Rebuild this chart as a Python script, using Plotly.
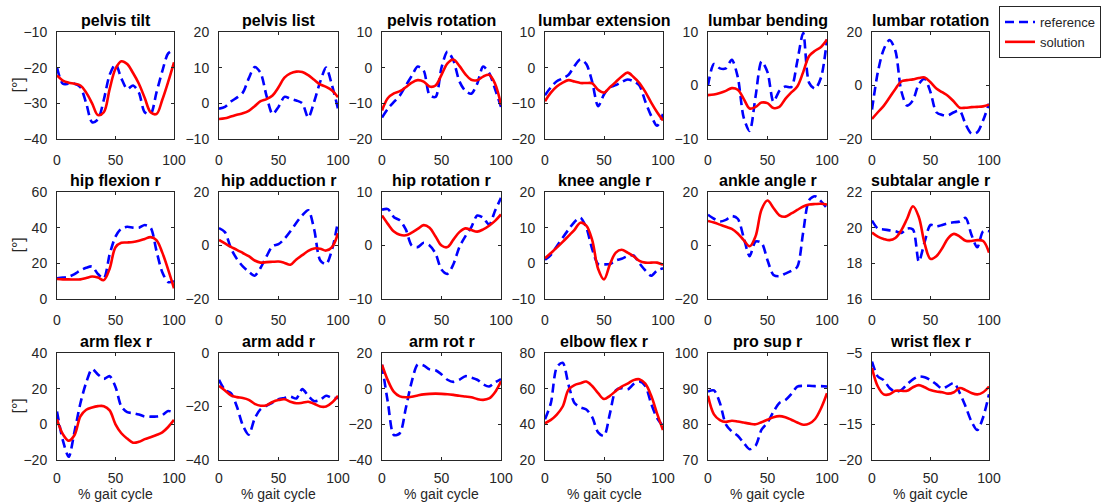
import plotly.graph_objects as go

# % gait cycle sample points
gait = [0, 5, 10, 15, 20, 25, 30, 35, 40, 45, 50, 55, 60, 65, 70, 75, 80, 85, 90, 95, 100]

titles = ["pelvis tilt", "pelvis list", "pelvis rotation", "lumbar extension", "lumbar bending", "lumbar rotation",
          "hip flexion r", "hip adduction r", "hip rotation r", "knee angle r", "ankle angle r", "subtalar angle r",
          "arm flex r", "arm add r", "arm rot r", "elbow flex r", "pro sup r", "wrist flex r"]

# ---- row 1 ----
pelvis_tilt_ref = [-20, -24.5, -24.5, -24.5, -25.5, -30, -35.3, -34.5, -29, -22, -19, -23, -26, -25, -27, -32.5, -33, -27, -21, -16, -15]
pelvis_tilt_sol = [-22.2, -23.6, -24.2, -24.5, -25, -27, -30, -33.3, -32.5, -26, -20.3, -18.2, -19, -21.5, -24.5, -28.5, -32.5, -33, -29, -24, -18.5]
pelvis_list_ref = [-1.5, -1, 0.5, 1.6, 3, 7, 10.2, 8.5, 2, -3, -1, 1.8, 1.3, 0.8, 0, -4, 0.5, 6, 10, 5, -1.5]
pelvis_list_sol = [-4.4, -4.2, -3.7, -3.2, -2.8, -2.1, -0.8, 0.6, 1.2, 2.2, 4.5, 7.2, 8.4, 8.9, 8.8, 7.9, 6.6, 5.3, 4.6, 3.6, 1.7]
pelvis_rotation_ref = [-14, -11.5, -9.6, -7.8, -5, -2.3, 0.3, -0.8, -7.7, -8.2, 0, 4.5, 2, -3.8, -6.5, -7.3, -4.5, 0.3, -1.5, -6, -11]
pelvis_rotation_sol = [-12, -8.5, -7.2, -6.6, -5.5, -4.2, -3.5, -3.9, -5.3, -5, -2, 1.2, 2.3, 0.5, -1.8, -3.4, -3.5, -2.5, -2, -4.5, -10.4]
lumbar_extension_ref = [-7.7, -5.5, -3.8, -3, -2, 0.5, 2.3, 1, -4, -10.8, -7.5, -5.5, -4.9, -4, -3.3, -3.8, -5, -9.5, -13.5, -16.3, -13]
lumbar_extension_sol = [-9.4, -7, -5.3, -4.2, -3.5, -3.9, -4.3, -4.3, -4.4, -6.2, -7, -5.5, -4, -2.5, -1.4, -2.6, -4.3, -6.8, -9.8, -12.5, -14.8]
lumbar_bending_ref = [0, 4, 3.2, 3.2, 4.8, 1.6, -6, -8.5, -2, 4.5, 2.5, -3, -1, -0.2, -0.3, 4.5, 9.8, 0.5, -0.6, 1.5, 8.6]
lumbar_bending_sol = [-1.8, -1.7, -1.4, -1, -0.5, -0.8, -2.5, -4.3, -4, -3.2, -3.3, -4.2, -4, -2.5, -1.3, -0.2, 2.5, 5.5, 6.5, 7.2, 8.6]
lumbar_rotation_ref = [-9, 5, 13.5, 17, 13, -2, -7.5, -5.5, 0.5, 2.5, -2.5, -10, -11, -11.2, -10, -9.5, -14.5, -18, -17.5, -13, -6.8]
lumbar_rotation_sol = [-12.5, -10, -7.6, -4.5, -1.3, 1.5, 2, 2.3, 2.8, 3, 1.2, -1.1, -2.5, -3.9, -6, -8.3, -8.3, -8.1, -8, -7.8, -7.2]

# ---- row 2 ----
hip_flexion_ref = [11.6, 12, 12.5, 14, 16, 17.5, 18.2, 14, 11.5, 25, 35, 39.5, 40.5, 40, 40, 41.5, 40, 27, 15, 9.5, 10]
hip_flexion_sol = [11.2, 11, 11, 10.9, 11, 11.8, 12.6, 12, 10.6, 17, 29, 31.5, 31.7, 32, 32.7, 33.7, 34.7, 33, 26, 16.5, 6]
hip_adduction_ref = [6.5, 5, -1, -5, -7.8, -9.8, -11.3, -8.3, -4, -0.2, 0.5, 2.5, 5.3, 8.5, 11.3, 13.2, 6, -5.5, -7, -1.5, 9]
hip_adduction_sol = [2.1, 0.8, -0.5, -1.6, -2.8, -4, -5.6, -6.4, -6.2, -6.1, -6, -6.5, -7.2, -5.2, -3.6, -2, -1.1, -1.2, -1.9, -0.6, 4.6]
hip_rotation_ref = [6.7, 6.8, 5.3, 4.7, 3, 0, -0.3, 0.5, 0, -1.5, -4.5, -5.3, -3.5, -0.3, 1.7, 3.4, 5.6, 5.2, 3.9, 6.5, 8.9]
hip_rotation_sol = [5.6, 4, 2.6, 2, 1.9, 2.4, 3.1, 3.8, 3.3, 1.7, 0, -0.3, 1.1, 2.5, 3.2, 2.9, 2.6, 3, 3.7, 4.6, 5.8]
knee_angle_ref = [1, 2.4, 4.8, 7.2, 9.5, 11.6, 12.8, 10, 4, -0.2, -0.3, -0.2, 0.8, 1.3, 2, 2.2, 0, -2, -3.5, -2, -1.4]
knee_angle_sol = [1.4, 2.9, 4.4, 6, 7.7, 9.4, 11.4, 10.6, 6.5, -1.5, -4.5, -0.3, 3, 3.8, 3, 2, 0.7, 0.2, 0.2, 0.2, -0.4]
ankle_angle_ref = [11.5, 10, 9, 9.6, 11, 10, 3, -4, 1.5, 1, -5.5, -11, -11.5, -10.5, -9.5, -8, 5, 17, 18.4, 16.5, 14]
ankle_angle_sol = [9.2, 8.6, 7.8, 7, 6.2, 4.5, 2, -0.3, 3.5, 13.5, 16.8, 14, 11.3, 10.8, 12, 13.3, 14.6, 15.3, 15.5, 15.6, 15.3]
subtalar_angle_ref = [20.4, 19.95, 19.9, 19.85, 19.8, 19.7, 19.95, 19.9, 18.1, 19.2, 20.15, 20.07, 20.15, 20.25, 20.3, 20.35, 20.55, 19.6, 18.9, 19.8, 19.8]
subtalar_angle_sol = [19.73, 19.5, 19.37, 19.3, 19.42, 19.85, 20.5, 21.2, 20.6, 19.1, 18.25, 18.4, 18.85, 19.4, 19.65, 19.5, 19.27, 19.25, 19.3, 19.25, 18.6]

# ---- row 3 ----
arm_flex_ref = [7.2, -9, -18.2, -4, 11.8, 23.5, 31, 28, 25.5, 27, 21, 10, 6.8, 6.3, 5.5, 4.4, 4.3, 4.4, 5.2, 7.5, 6.5]
arm_flex_sol = [2.8, -5.5, -9.2, -6, 4.5, 8.2, 9.5, 10.2, 10.2, 7.8, 0, -5, -8, -10.3, -9.8, -8.3, -7.2, -6, -4.5, -1.5, 2.5]
arm_add_ref = [-10, -13.8, -15, -20, -27, -30.5, -24.5, -21, -19.7, -18.5, -17.3, -16.8, -16.3, -17, -13.5, -16, -18, -17.5, -16, -16.8, -16.8]
arm_add_sol = [-12.3, -14, -15.8, -16.5, -16.8, -17.5, -19, -19.7, -19.5, -18.3, -17.6, -17.3, -18.2, -18.8, -18.6, -18.2, -19, -20, -20, -18.5, -16]
arm_rot_ref = [13.4, -8, -26, -25, -11, 4, 13.5, 13, 10.8, 10.3, 8, 5, 3.8, 5, 7, 6.2, 5, 2.5, 1.2, 3.5, 5.4]
arm_rot_sol = [13.4, 4.5, -1.8, -4.3, -4.8, -4.5, -3.8, -3.2, -2.9, -2.8, -2.9, -3.1, -3.5, -4, -4.4, -4.8, -5.8, -6.3, -5.5, -2, 4.1]
elbow_flex_ref = [42.8, 52, 72, 74.5, 62, 52, 49.5, 48.3, 44, 35.5, 33.5, 46, 59, 60.3, 59.5, 62.5, 64, 61.5, 51.5, 43.5, 39]
elbow_flex_sol = [40.6, 42.5, 45.5, 50, 59.5, 62, 63, 64, 61.5, 57.5, 54.2, 56, 58.7, 61.2, 62.8, 64.8, 65.3, 62.8, 56, 46, 36.8]
pro_sup_ref = [89.2, 89.5, 86, 80, 78, 76.8, 74.8, 73, 74, 78.5, 80.5, 83.5, 86, 86.8, 88.5, 90.6, 90.8, 90.8, 90.7, 90.7, 90.6]
pro_sup_sol = [88, 82.8, 81.2, 80.7, 81, 80.8, 80.5, 80.2, 80, 80.6, 81.3, 82, 82.3, 82, 81.3, 80.5, 79.9, 80.2, 81.5, 84.5, 88.7]
wrist_flex_ref = [-6.2, -8.3, -8.8, -9.9, -10.4, -10.2, -9.4, -8.7, -8.3, -8.4, -8.8, -9.4, -10, -9.6, -9.2, -10.6, -12.5, -14.6, -15.8, -14, -10.8]
wrist_flex_sol = [-7.1, -9.7, -10.8, -10.8, -10.3, -10.3, -10.3, -9.8, -9.5, -9.8, -10.2, -10.4, -10.5, -10.7, -10.5, -9.9, -10.2, -10.6, -10.8, -10.5, -9.7]

reference_series = [pelvis_tilt_ref, pelvis_list_ref, pelvis_rotation_ref, lumbar_extension_ref, lumbar_bending_ref, lumbar_rotation_ref,
                    hip_flexion_ref, hip_adduction_ref, hip_rotation_ref, knee_angle_ref, ankle_angle_ref, subtalar_angle_ref,
                    arm_flex_ref, arm_add_ref, arm_rot_ref, elbow_flex_ref, pro_sup_ref, wrist_flex_ref]
solution_series = [pelvis_tilt_sol, pelvis_list_sol, pelvis_rotation_sol, lumbar_extension_sol, lumbar_bending_sol, lumbar_rotation_sol,
                   hip_flexion_sol, hip_adduction_sol, hip_rotation_sol, knee_angle_sol, ankle_angle_sol, subtalar_angle_sol,
                   arm_flex_sol, arm_add_sol, arm_rot_sol, elbow_flex_sol, pro_sup_sol, wrist_flex_sol]

# y tick values per subplot (first/last = axis limits)
y_ticks = [[-40, -30, -20, -10], [-10, 0, 10, 20], [-20, -10, 0, 10], [-20, -10, 0, 10], [-10, 0, 10], [-20, 0, 20],
           [0, 20, 40, 60], [-20, 0, 20], [-10, 0, 10], [-10, 0, 10, 20], [-20, 0, 20], [16, 18, 20, 22],
           [-20, 0, 20, 40], [-40, -20, 0], [-40, -20, 0, 20], [20, 40, 60, 80], [70, 80, 90, 100], [-20, -15, -10, -5]]
x_ticks = [0, 50, 100]

# layout geometry (pixels)
W, H = 1106, 503
col_px = [(57, 174), (219, 338), (382, 501), (545, 663), (708, 827), (872, 989)]
row_px = [(32, 139), (192, 299), (353, 460)]

AX = "#262626"
FONT = "Liberation Sans, Arial, sans-serif"

fig = go.Figure()
annotations = []
for i in range(18):
    r, c = divmod(i, 6)
    n = i + 1
    xa = "x" if n == 1 else f"x{n}"
    ya = "y" if n == 1 else f"y{n}"
    fig.add_trace(go.Scatter(x=gait, y=reference_series[i], mode="lines", name="reference",
                             line=dict(color="#0000FF", width=2.6, dash="9px,5px", shape="spline", smoothing=0.8),
                             showlegend=(i == 0), xaxis=xa, yaxis=ya, legendrank=1))
    fig.add_trace(go.Scatter(x=gait, y=solution_series[i], mode="lines", name="solution",
                             line=dict(color="#FF0000", width=2.6, shape="spline", smoothing=1.0),
                             showlegend=(i == 0), xaxis=xa, yaxis=ya, legendrank=2))
    x0, x1 = col_px[c]
    y0, y1 = row_px[r]
    common = dict(showline=True, linecolor=AX, linewidth=1, mirror="ticks", ticks="inside",
                  ticklen=3, tickcolor=AX, showgrid=False, zeroline=False,
                  tickfont=dict(family=FONT, size=14, color=AX))
    fig.layout[f"xaxis{n}"] = dict(domain=[x0 / W, x1 / W], anchor=ya, range=[0, 100],
                                   tickvals=x_ticks, ticklabelstandoff=(8 if r < 2 else 5), **common)
    yt = y_ticks[i]
    fig.layout[f"yaxis{n}"] = dict(domain=[1 - y1 / H, 1 - y0 / H], anchor=xa, range=[yt[0], yt[-1]],
                                   tickvals=yt, ticklabelstandoff=6, **common)
    annotations.append(dict(text=f"<b>{titles[i]}</b>", x=(x0 + x1) / 2 / W, y=1 - (y0 - 1) / H,
                            xref="paper", yref="paper", xanchor="center", yanchor="bottom",
                            showarrow=False, font=dict(family=FONT, size=16, color="#000000")))
    if r == 2:
        annotations.append(dict(text="% gait cycle", x=(x0 + x1) / 2 / W, y=0,
                                xref="paper", yref="paper", xanchor="center", yanchor="bottom",
                                showarrow=False, borderpad=0,
                                font=dict(family=FONT, size=14, color=AX)))
    if c == 0:
        annotations.append(dict(text="[°]", x=18 / W, y=1 - (y0 + y1) / 2 / H, textangle=-90,
                                xref="paper", yref="paper", xanchor="center", yanchor="middle",
                                showarrow=False, font=dict(family=FONT, size=16, color=AX)))

fig.update_layout(
    width=W, height=H, margin=dict(l=0, r=0, t=0, b=0, autoexpand=False),
    paper_bgcolor="white", plot_bgcolor="white",
    annotations=annotations,
    legend=dict(x=999 / W, y=1 - 6 / H, xanchor="left", yanchor="top",
                bordercolor=AX, borderwidth=1, bgcolor="white",
                font=dict(family=FONT, size=13, color=AX), tracegroupgap=0,
                itemwidth=30),
)

fig.write_html("out.html")
